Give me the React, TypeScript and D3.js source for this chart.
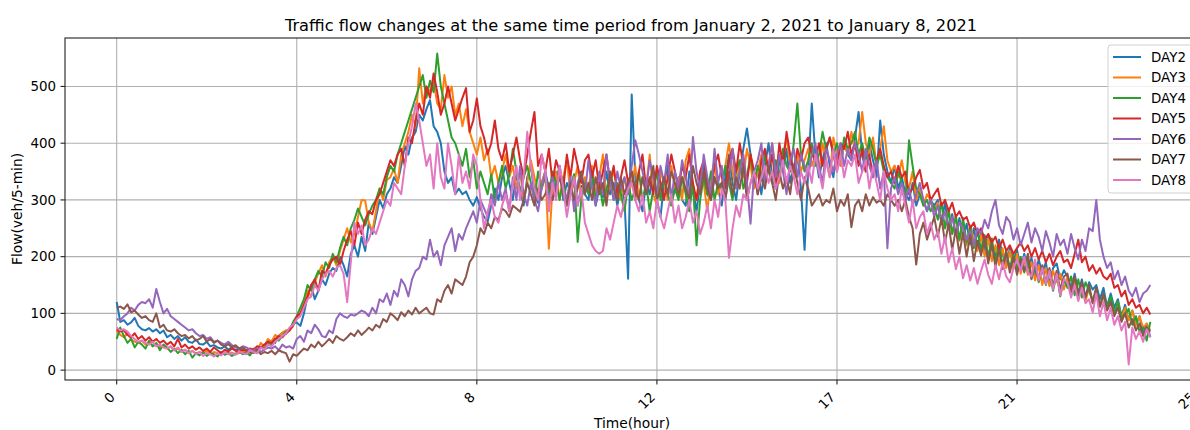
import React from 'react';
import * as d3 from 'd3';

const seriesNames = ['DAY2', 'DAY3', 'DAY4', 'DAY5', 'DAY6', 'DAY7', 'DAY8'];
const seriesColors = ['#1f77b4', '#ff7f0e', '#2ca02c', '#d62728', '#9467bd', '#8c564b', '#e377c2'];
const xTickValues = [0, 50, 100, 150, 200, 250, 300];
const xTickLabels = ['0', '4', '8', '12', '17', '21', '25'];
const yTickValues = [0, 100, 200, 300, 400, 500];

const day2 = [
  120, 85, 88, 80, 84, 92, 78, 72, 70, 74, 68, 72,
  65, 70, 58, 62, 55, 60, 52, 58, 50, 48, 54, 46,
  45, 50, 42, 44, 40, 38, 42, 36, 40, 34, 38, 33,
  30, 35, 32, 36, 40, 38, 45, 52, 48, 60, 66, 64,
  72, 82, 84, 78, 100, 130, 150, 125, 140, 160, 150, 170,
  180, 175, 200, 185, 165, 205, 220, 200, 235, 210, 260, 240,
  270, 300, 285, 310, 320, 340, 330, 360, 395, 380, 410, 420,
  450, 440, 460, 476, 430, 420, 400, 350, 330, 340, 310, 320,
  310, 315, 300, 290, 305, 285, 270, 262, 290, 320, 300, 340,
  360, 330, 300, 345, 320, 290, 340, 360, 310, 295, 330, 350,
  320, 300, 335, 360, 300, 330, 315, 345, 290, 325, 310, 300,
  340, 290, 320, 305, 350, 310, 330, 290, 320, 300, 161, 486,
  340, 300, 280, 330, 310, 350, 300, 270, 330, 360, 300, 320,
  340, 300, 290, 350, 320, 280, 330, 360, 310, 300, 340, 320,
  290, 340, 380, 330, 300, 350, 390, 426, 380, 330, 350, 310,
  360, 400, 340, 320, 370, 350, 390, 330, 360, 380, 320, 212,
  350, 470, 380, 340, 370, 400, 360, 340, 390, 360, 400, 380,
  370, 410, 455, 380, 350, 400, 370, 340, 440, 380, 350, 330,
  360, 320, 340, 310, 300, 330, 290, 310, 300, 280, 300, 290,
  300, 262, 295, 250, 275, 238, 268, 232, 258, 222, 250, 215,
  245, 212, 238, 220, 200, 230, 205, 185, 215, 190, 212, 178,
  205, 180, 198, 165, 195, 172, 190, 150, 180, 188, 160, 176,
  165, 145, 170, 135, 160, 128, 155, 142, 150, 125, 145, 112,
  135, 110, 125, 95, 115, 88, 105, 80, 95, 65, 82, 58,
];

const day3 = [
  70, 62, 58, 65, 55, 50, 48, 52, 45, 50, 42, 46,
  40, 44, 38, 42, 35, 38, 32, 36, 30, 34, 29, 32,
  30, 34, 28, 32, 30, 27, 33, 29, 31, 28, 30, 32,
  35, 30, 38, 34, 48, 42, 55, 50, 62, 58, 66, 70,
  72, 80, 90, 100, 120, 140, 130, 155, 170, 185, 165, 190,
  200, 185, 210, 230, 250, 225, 240, 270, 300, 299, 260, 245,
  280, 320, 300, 335, 340, 355, 330, 380, 400, 420, 450, 430,
  532, 470, 500, 490, 510, 470, 460, 520, 480, 500, 450, 470,
  430, 460, 420, 400, 380, 410, 370, 390, 340, 360, 330, 350,
  380, 340, 360, 320, 350, 300, 330, 370, 340, 310, 330, 350,
  214, 320, 350, 300, 340, 370, 310, 330, 360, 300, 340, 320,
  360, 310, 340, 380, 300, 330, 350, 320, 300, 340, 310, 330,
  360, 300, 340, 320, 380, 310, 290, 350, 330, 300, 360, 320,
  340, 300, 370, 390, 320, 300, 350, 330, 280, 340, 370, 310,
  330, 360, 400, 350, 320, 370, 340, 390, 360, 320, 350, 380,
  340, 360, 400, 350, 330, 380, 410, 360, 340, 380, 350, 370,
  390, 360, 380, 350, 400, 370, 340, 410, 380, 360, 400, 380,
  420, 390, 400, 455, 400, 380, 410, 360, 390, 430, 370, 350,
  360, 340, 370, 330, 320, 350, 300, 320, 290, 310, 300, 280,
  295, 262, 250, 285, 240, 270, 228, 260, 220, 255, 230, 210,
  238, 200, 232, 192, 220, 185, 215, 180, 210, 178, 205, 170,
  196, 168, 190, 158, 185, 150, 180, 148, 175, 155, 170, 142,
  165, 132, 155, 128, 150, 122, 145, 118, 140, 112, 130, 108,
  125, 102, 120, 92, 110, 88, 105, 78, 95, 75, 82, 70,
];

const day4 = [
  55, 75, 60, 48, 55, 40, 50, 45, 38, 52, 42, 48,
  35, 45, 40, 32, 38, 30, 36, 28, 34, 22, 30, 26,
  32, 25, 30, 28, 24, 32, 27, 30, 25, 29, 33, 28,
  31, 26, 35, 30, 40, 36, 50, 44, 55, 52, 60, 68,
  70, 85, 95, 110, 125, 150, 140, 160, 175, 165, 190, 180,
  205, 190, 215, 235, 220, 250, 265, 285, 270, 255, 275, 290,
  300, 320, 310, 340, 360, 350, 380, 400, 420, 440, 460, 480,
  500, 520, 480, 510, 490, 558, 500, 470, 440, 410, 400, 380,
  360, 390, 340, 370, 320, 350, 330, 310, 345, 300, 330, 360,
  320, 345, 390, 350, 310, 340, 360, 330, 300, 350, 320, 340,
  310, 350, 330, 300, 340, 290, 320, 345, 226, 300, 330, 310,
  350, 300, 330, 290, 320, 340, 300, 330, 310, 280, 330, 300,
  320, 350, 300, 330, 280, 320, 350, 300, 340, 310, 290, 320,
  300, 340, 310, 280, 330, 220, 300, 340, 310, 350, 300, 330,
  320, 360, 330, 300, 350, 370, 320, 340, 380, 330, 360, 340,
  380, 350, 330, 370, 340, 390, 360, 350, 400, 470, 380, 350,
  370, 400, 360, 380, 420, 390, 410, 380, 400, 370, 410, 390,
  400, 420, 380, 400, 370, 410, 390, 360, 380, 350, 340, 330,
  320, 350, 330, 300, 405, 360, 320, 310, 290, 300, 280, 290,
  265, 295, 250, 280, 240, 272, 230, 268, 225, 252, 215, 245,
  212, 238, 200, 232, 190, 222, 185, 210, 180, 205, 178, 200,
  172, 195, 160, 190, 155, 180, 150, 175, 140, 170, 130, 160,
  145, 165, 132, 160, 128, 155, 140, 122, 145, 112, 135, 108,
  130, 100, 120, 92, 100, 108, 80, 95, 68, 75, 52, 85,
];

const day5 = [
  72, 68, 70, 62, 58, 65, 55, 60, 52, 58, 50, 55,
  48, 52, 45, 50, 42, 55, 40, 45, 38, 42, 36, 40,
  34, 38, 32, 40, 35, 30, 36, 33, 38, 35, 32, 36,
  34, 38, 36, 42, 40, 45, 50, 48, 55, 60, 58, 65,
  70, 78, 95, 100, 115, 130, 150, 160, 140, 175, 170, 185,
  195, 200, 185, 210, 230, 245, 220, 260, 240, 265, 280, 275,
  300, 310, 330, 350, 370, 360, 380, 390, 360, 410, 400, 440,
  470, 450, 500, 480, 523, 490, 450, 470, 500, 470, 440, 460,
  480, 497, 420, 440, 479, 430, 410, 380, 400, 440, 390, 370,
  400, 350, 380, 410, 370, 340, 380, 420, 455, 360, 380, 350,
  390, 330, 370, 350, 320, 380, 340, 390, 360, 330, 370, 380,
  340, 370, 320, 350, 380, 330, 360, 310, 340, 370, 330, 350,
  300, 350, 380, 320, 340, 310, 360, 330, 300, 340, 380, 350,
  320, 360, 340, 380, 330, 300, 350, 370, 330, 310, 360, 380,
  340, 320, 370, 390, 350, 400, 360, 330, 380, 350, 310, 370,
  390, 350, 380, 330, 400, 360, 420, 380, 350, 390, 370, 400,
  410, 380, 370, 400, 360, 390, 410, 380, 350, 400, 390, 420,
  380, 400, 360, 390, 350, 380, 340, 370, 390, 360, 340, 350,
  330, 360, 340, 350, 310, 320, 340, 353, 320, 330, 300, 310,
  320, 290, 300, 280, 295, 270, 280, 265, 270, 250, 260, 240,
  250, 230, 240, 225, 235, 215, 230, 210, 220, 205, 215, 225,
  210, 220, 200, 215, 195, 210, 190, 205, 185, 200, 210, 190,
  195, 180, 205, 230, 190, 200, 175, 185, 170, 180, 165, 160,
  170, 145, 150, 130, 140, 115, 125, 110, 115, 100, 110, 98,
];

const day6 = [
  90, 88, 95, 100, 110, 105, 115, 120, 118, 125, 110, 143,
  120, 100, 108, 95, 90, 85, 80, 75, 70, 72, 65, 60,
  62, 55, 58, 50, 52, 48, 45, 50, 44, 40, 38, 42,
  40, 36, 34, 38, 32, 36, 40, 38, 42, 35, 45, 40,
  42, 38, 55, 60, 50, 70, 65, 80, 72, 60, 58, 70,
  65, 90, 100, 95, 92, 98, 96, 100, 105, 102, 95, 110,
  100, 125, 120, 135, 115, 140, 130, 160, 150, 130, 160, 175,
  180, 200, 195, 230, 200, 210, 185, 220, 235, 250, 210, 240,
  230, 250, 265, 280, 260, 300, 285, 270, 310, 290, 330, 300,
  320, 280, 340, 300, 360, 310, 290, 330, 300, 280, 320, 350,
  290, 340, 310, 360, 320, 300, 340, 280, 330, 350, 310, 370,
  320, 290, 350, 310, 380, 330, 300, 350, 320, 340, 310, 360,
  405, 380, 350, 320, 370, 340, 310, 360, 330, 380, 300, 350,
  320, 370, 340, 300, 411, 350, 320, 380, 340, 310, 390, 330,
  360, 300, 340, 390, 320, 350, 380, 330, 258, 350, 370, 400,
  330, 360, 400, 340, 380, 350, 310, 370, 390, 340, 380, 360,
  340, 380, 400, 360, 330, 390, 370, 350, 380, 400, 360, 390,
  370, 400, 380, 350, 390, 360, 340, 370, 320, 350, 215, 320,
  340, 310, 330, 300, 320, 290, 310, 330, 300, 280, 300, 270,
  290, 260, 280, 250, 270, 240, 260, 250, 230, 245, 220, 250,
  240, 265, 250, 280, 300, 255, 240, 270, 261, 230, 250, 220,
  240, 260, 225, 250, 235, 210, 245, 225, 200, 240, 220, 230,
  205, 240, 215, 195, 230, 210, 250, 245, 300, 230, 200, 180,
  190, 160, 175, 150, 165, 140, 130, 145, 120, 135, 140, 150,
];

const day7 = [
  110, 112, 108, 116, 102, 105, 98, 92, 95, 88, 85, 100,
  75, 80, 70, 68, 72, 65, 60, 62, 56, 60, 52, 55,
  60, 50, 55, 48, 52, 45, 42, 46, 40, 44, 38, 40,
  35, 32, 30, 36, 28, 32, 30, 34, 28, 35, 32, 30,
  15, 28, 25, 32, 38, 35, 45, 40, 50, 42, 48, 55,
  48, 60, 55, 52, 58, 65, 60, 70, 62, 68, 75, 70,
  80, 75, 90, 85, 100, 95, 88, 102, 95, 105, 98, 110,
  100, 105, 110, 100, 98, 125, 120, 140, 150, 135, 160, 155,
  150, 165, 190, 200, 220, 250, 240, 260, 250, 270, 265, 285,
  280, 270, 290, 285, 279, 300, 330, 310, 290, 320, 300, 310,
  330, 300, 320, 340, 310, 290, 330, 300, 320, 350, 310, 330,
  300, 340, 310, 330, 290, 350, 320, 300, 340, 310, 330, 350,
  320, 300, 340, 310, 330, 360, 300, 320, 340, 310, 350, 330,
  310, 340, 320, 300, 360, 330, 310, 350, 320, 300, 340, 320,
  330, 300, 350, 310, 340, 320, 360, 300, 330, 350, 310, 340,
  320, 360, 330, 300, 350, 320, 340, 310, 360, 330, 300, 340,
  320, 290, 300, 310, 290, 300, 295, 320, 280, 300, 290, 310,
  252, 290, 300, 280, 310, 290, 305, 295, 300, 290, 310, 300,
  290, 300, 280, 300, 270, 250, 186, 240, 260, 230, 250, 270,
  235, 268, 225, 258, 212, 248, 205, 242, 200, 238, 192, 228,
  202, 232, 188, 222, 182, 212, 178, 208, 172, 200, 168, 195,
  175, 205, 162, 190, 158, 185, 152, 180, 148, 175, 142, 165,
  170, 138, 165, 132, 155, 128, 150, 118, 145, 112, 135, 105,
  120, 95, 110, 85, 100, 75, 90, 70, 82, 60, 75, 68,
];

const day8 = [
  75, 70, 72, 68, 60, 55, 50, 52, 48, 45, 50, 42,
  45, 40, 38, 42, 35, 40, 32, 36, 30, 34, 28, 32,
  25, 30, 28, 24, 30, 26, 32, 28, 30, 27, 33, 30,
  28, 35, 32, 30, 40, 36, 45, 42, 50, 55, 60, 65,
  75, 80, 90, 95, 110, 125, 130, 150, 140, 160, 170, 175,
  165, 180, 185, 170, 120, 190, 260, 240, 255, 220, 230, 250,
  240, 260, 280, 300, 290, 330, 320, 310, 360, 400, 430, 470,
  440, 400, 360, 380, 320, 400, 340, 320, 400, 360, 310, 380,
  330, 350, 320, 380, 360, 300, 250, 280, 300, 270, 260, 290,
  310, 280, 330, 360, 300, 340, 420, 360, 320, 300, 380, 350,
  280, 330, 300, 360, 320, 270, 310, 340, 290, 320, 260, 240,
  220, 210, 205, 210, 250, 230, 260, 290, 270, 300, 320, 330,
  300, 280, 310, 260, 280, 250, 300, 270, 250, 280, 310, 260,
  290, 250, 270, 300, 260, 280, 240, 260, 290, 250, 300, 270,
  320, 300, 198, 250, 290, 270, 310, 300, 330, 350, 320, 340,
  360, 330, 350, 320, 340, 370, 330, 360, 340, 310, 350, 330,
  360, 330, 380, 350, 320, 370, 340, 390, 350, 380, 340, 370,
  360, 380, 330, 350, 370, 320, 360, 330, 300, 350, 320, 300,
  310, 280, 320, 290, 260, 300, 250, 270, 280, 240, 260, 230,
  245, 205, 235, 190, 215, 178, 200, 162, 185, 158, 180, 152,
  175, 195, 168, 152, 185, 160, 190, 165, 155, 180, 195, 175,
  200, 172, 165, 195, 158, 180, 152, 175, 142, 170, 132, 160,
  155, 128, 150, 122, 145, 118, 125, 102, 135, 95, 120, 88,
  110, 80, 95, 70, 85, 10, 75, 55, 68, 50, 72, 58,
];

const seriesValues = [day2, day3, day4, day5, day6, day7, day8];

const W = 1190;
const H = 430;
const left = 65;
const right = 1202;
const top = 38;
const bottom = 380;
const FONT = '"DejaVu Sans", sans-serif';

export default function App() {
  const n = day2.length;
  const xMin = 0;
  const xMax = n - 1;
  const xPad = (xMax - xMin) * 0.05;
  const x = d3.scaleLinear().domain([xMin - xPad, xMax + xPad]).range([left, right]);
  const all = seriesValues.flat();
  const yLo = d3.min(all) as number;
  const yHi = d3.max(all) as number;
  const yPad = (yHi - yLo) * 0.05;
  const y = d3.scaleLinear().domain([yLo - yPad, yHi + yPad]).range([bottom, top]);
  const line = d3
    .line<number>()
    .x((_, i) => x(i))
    .y((d) => y(d));

  const legendX = 1108;
  const legendY = 45;
  const legendRow = 20.5;

  return (
    <svg
      width={W}
      height={H}
      style={{ position: 'absolute', left: 0, top: 0, background: '#fff' }}
      fontFamily={FONT}
    >
      <rect x={0} y={0} width={W} height={H} fill="#fff" />
      <defs>
        <clipPath id="plotclip">
          <rect x={left} y={top} width={right - left} height={bottom - top} />
        </clipPath>
      </defs>
      {xTickValues.map((v) => (
        <line key={'gx' + v} x1={x(v)} x2={x(v)} y1={top} y2={bottom} stroke="#b0b0b0" strokeWidth={1.1} />
      ))}
      {yTickValues.map((v) => (
        <line key={'gy' + v} x1={left} x2={right} y1={y(v)} y2={y(v)} stroke="#b0b0b0" strokeWidth={1.1} />
      ))}
      <g clipPath="url(#plotclip)">
        {seriesValues.map((vals, k) => (
          <path
            key={seriesNames[k]}
            d={line(vals) as string}
            fill="none"
            stroke={seriesColors[k]}
            strokeWidth={2}
            strokeLinejoin="round"
          />
        ))}
      </g>
      <rect x={left} y={top} width={right - left} height={bottom - top} fill="none" stroke="#222" strokeWidth={1.1} />
      {xTickValues.map((v, i) => (
        <g key={'tx' + v}>
          <line x1={x(v)} x2={x(v)} y1={bottom} y2={bottom + 4.5} stroke="#222" strokeWidth={1.1} />
          <text
            transform={`translate(${x(v) - 1},${bottom + 18}) rotate(-45)`}
            textAnchor="end"
            fontSize={13.4}
            fill="#000"
          >
            {xTickLabels[i]}
          </text>
        </g>
      ))}
      {yTickValues.map((v) => (
        <g key={'ty' + v}>
          <line x1={left - 4.5} x2={left} y1={y(v)} y2={y(v)} stroke="#222" strokeWidth={1.1} />
          <text x={left - 9} y={y(v)} dy="0.36em" textAnchor="end" fontSize={13.4} fill="#000">
            {v}
          </text>
        </g>
      ))}
      <text x={632} y={428} textAnchor="middle" fontSize={13.8} fill="#000">
        Time(hour)
      </text>
      <text transform={`translate(22,209) rotate(-90)`} textAnchor="middle" fontSize={13.8} fill="#000">
        Flow(veh/5-min)
      </text>
      <text x={631} y={30.5} textAnchor="middle" fontSize={16.2} fill="#000">
        Traffic flow changes at the same time period from January 2, 2021 to January 8, 2021
      </text>
      <rect
        x={legendX}
        y={legendY}
        width={88}
        height={148}
        rx={3}
        fill="#fff"
        fillOpacity={0.8}
        stroke="#d0d0d0"
        strokeWidth={1}
      />
      {seriesNames.map((name, k) => (
        <g key={'lg' + name}>
          <line
            x1={legendX + 5}
            x2={legendX + 33}
            y1={legendY + 12 + k * legendRow}
            y2={legendY + 12 + k * legendRow}
            stroke={seriesColors[k]}
            strokeWidth={2}
          />
          <text x={legendX + 43} y={legendY + 12 + k * legendRow} dy="0.36em" fontSize={13.4} fill="#000">
            {name}
          </text>
        </g>
      ))}
    </svg>
  );
}
